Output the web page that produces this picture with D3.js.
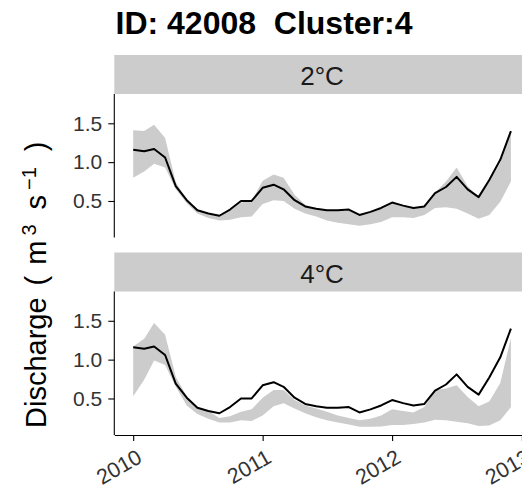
<!DOCTYPE html>
<html><head><meta charset="utf-8">
<script src="https://cdn.jsdelivr.net/npm/d3@7"></script>
<style>
body{margin:0;background:#fff}
svg{display:block;font-family:"Liberation Sans",Arial,Helvetica,sans-serif}
</style>
</head><body>
<svg id="c" width="522" height="489"></svg>
<script>
// ---- data ----
const title = "ID: 42008  Cluster:4";
const panels = ["2°C", "4°C"];
const startMonth = "2010-01-01";
const nMonths = 36;
const observed = [1.16,1.14,1.17,1.06,0.69,0.51,0.38,0.34,0.31,0.39,0.50,0.50,
                  0.67,0.71,0.65,0.51,0.43,0.40,0.38,0.38,0.39,0.32,0.36,0.41,
                  0.48,0.44,0.41,0.43,0.60,0.68,0.81,0.65,0.55,0.77,1.03,1.40];
const upper2 = [1.41,1.40,1.48,1.31,0.74,0.52,0.38,0.33,0.31,0.38,0.48,0.50,
                0.76,0.84,0.80,0.58,0.45,0.40,0.38,0.37,0.38,0.32,0.35,0.40,
                0.47,0.43,0.41,0.43,0.61,0.75,0.93,0.69,0.55,0.75,0.99,1.39];
const lower2 = [0.80,0.88,0.98,0.93,0.65,0.47,0.34,0.28,0.25,0.26,0.29,0.30,
                0.46,0.51,0.50,0.40,0.34,0.30,0.25,0.22,0.20,0.18,0.20,0.23,
                0.29,0.29,0.28,0.32,0.41,0.42,0.40,0.34,0.27,0.32,0.49,0.75];
const upper4 = [1.17,1.27,1.47,1.32,0.78,0.53,0.39,0.34,0.25,0.27,0.33,0.36,
                0.51,0.61,0.61,0.48,0.41,0.37,0.33,0.28,0.25,0.22,0.24,0.28,
                0.36,0.34,0.32,0.39,0.61,0.63,0.67,0.52,0.40,0.46,0.70,1.28];
const lower4 = [0.53,0.74,0.99,0.93,0.65,0.41,0.30,0.24,0.19,0.19,0.22,0.21,
                0.28,0.40,0.44,0.37,0.31,0.26,0.22,0.19,0.165,0.135,0.135,0.14,
                0.16,0.16,0.17,0.19,0.225,0.22,0.20,0.18,0.147,0.153,0.22,0.39];
const ribbons = [{lower: lower2, upper: upper2}, {lower: lower4, upper: upper4}];
const yTicks = [0.5, 1.0, 1.5];
const xTickYears = [2010, 2011, 2012, 2013];

// ---- layout ----
const svg = d3.select("#c");
const left = 114.3, right = 529.8;
const panelTops = [94, 291.5];
const panelH = 143.5;
const stripH = 39;
const m0 = new Date(startMonth + "T00:00:00Z");
const months = d3.utcMonth.range(m0, d3.utcMonth.offset(m0, nMonths));
const t0 = +months[0], t1 = +months[months.length - 1];
const pad = (t1 - t0) * 0.05;
const x = d3.scaleUtc().domain([new Date(t0 - pad), new Date(t1 + pad)]).range([left, right]);
const y = d3.scaleLinear().domain([0.03, 1.877]).range([panelH, 0]);

// title
svg.append("text").attr("x", 115.5).attr("y", 33.5)
  .attr("font-size", 32).attr("font-weight", "bold").attr("fill", "#000")
  .style("white-space", "pre").text(title);

panels.forEach((p, k) => {
  const top = panelTops[k];
  // strip
  svg.append("rect").attr("x", left).attr("y", top - stripH).attr("width", right - left).attr("height", stripH)
    .attr("fill", "#cccccc");
  svg.append("text").attr("x", (left + right) / 2).attr("y", top - stripH + 30)
    .attr("text-anchor", "middle").attr("font-size", 26).attr("fill", "#1a1a1a").text(p);

  const g = svg.append("g").attr("transform", `translate(0,${top})`);
  const cid = "clip" + k;
  g.append("clipPath").attr("id", cid).append("rect")
    .attr("x", left).attr("y", 0).attr("width", right - left).attr("height", panelH);
  const pg = g.append("g").attr("clip-path", `url(#${cid})`);
  const rb = ribbons[k];
  const area = d3.area().x((d, i) => x(months[i])).y0((d, i) => y(rb.lower[i])).y1((d, i) => y(rb.upper[i]));
  pg.append("path").datum(observed).attr("d", area).attr("fill", "#cccccc");
  const line = d3.line().x((d, i) => x(months[i])).y(d => y(d));
  pg.append("path").datum(observed).attr("d", line).attr("fill", "none")
    .attr("stroke", "#000").attr("stroke-width", 2).attr("stroke-linejoin", "round");

  // y axis
  const ya = g.append("g").attr("transform", `translate(${left},0)`)
    .call(d3.axisLeft(y).tickValues(yTicks).tickFormat(d3.format(".1f")).tickSize(6).tickPadding(6));
  ya.attr("font-family", null).attr("font-size", null);
  ya.select(".domain").attr("stroke", "#000").attr("stroke-width", 1.1).attr("d", `M0,0V${panelH}`);
  ya.selectAll(".tick line").attr("stroke", "#000").attr("stroke-width", 1.1);
  ya.selectAll(".tick text").attr("font-size", 21).attr("fill", "#333");

  if (k === panels.length - 1) {
    const xa = g.append("g").attr("transform", `translate(0,${panelH})`)
      .call(d3.axisBottom(x).tickValues(xTickYears.map(yr => new Date(Date.UTC(yr, 0, 1))))
        .tickFormat(d3.utcFormat("%Y")).tickSize(6).tickSizeOuter(0));
    xa.attr("font-family", null).attr("font-size", null);
    xa.select(".domain").attr("stroke", "#000").attr("stroke-width", 1.1);
    xa.selectAll(".tick line").attr("stroke", "#000").attr("stroke-width", 1.1);
    xa.selectAll(".tick text")
      .attr("font-size", 21.5).attr("fill", "#333")
      .attr("text-anchor", "end").attr("x", null).attr("y", null).attr("dy", "0.72em")
      .attr("transform", "translate(2,13) rotate(-30)");
  }
});

// y axis title
const yt = svg.append("text").attr("transform", "translate(46,428) rotate(-90)")
  .attr("font-size", 29).attr("fill", "#000").style("white-space", "pre");
yt.append("tspan").text("Discharge");
yt.append("tspan").attr("dx", 12).text("(");
yt.append("tspan").attr("dx", 11).text("m");
yt.append("tspan").attr("font-size", 20).attr("dy", -10).attr("dx", 5).text("3");
yt.append("tspan").attr("dy", 10).attr("dx", 15).text("s");
yt.append("tspan").attr("font-size", 20).attr("dy", -10).attr("dx", 5).text("−1");
yt.append("tspan").attr("dy", 10).attr("dx", 16).text(")");
</script>
</body></html>
